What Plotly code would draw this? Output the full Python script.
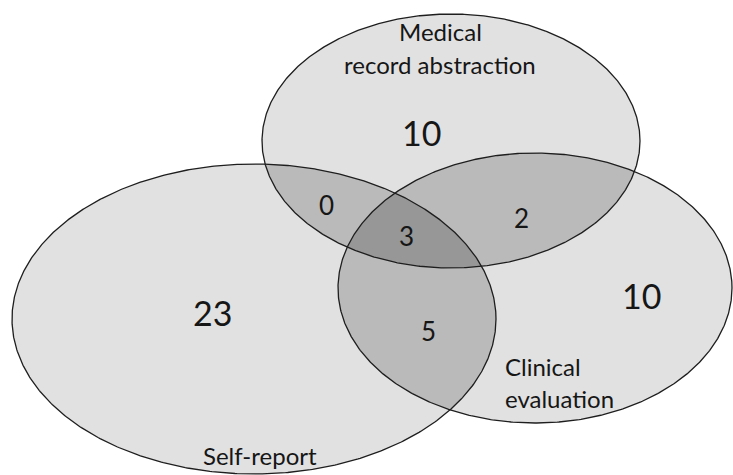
import numpy as np
import plotly.graph_objects as go

# ---- data ----
set_names = ["Self-report", "Medical record abstraction", "Clinical evaluation"]
region_names = ["Self-report only", "Medical only", "Clinical only",
                "Self-report & Medical", "Self-report & Clinical",
                "Medical & Clinical", "All three"]
region_counts = [23, 10, 10, 0, 5, 2, 3]

# ---- layout / geometry (pixel-like coordinates, y grows downward) ----
W, H = 733, 475
ell_cx = [254, 451, 535]
ell_cy = [319, 141, 288]
ell_rx = [242, 189, 197]
ell_ry = [155, 127, 135]

count_x = [212, 421, 641, 326, 428, 521, 406]
count_y = [312, 132, 295, 205, 331, 218, 236]
count_size = [34, 34, 34, 26, 26, 26, 26]

set_label_lines = [["Self-report"], ["Medical", "record abstraction"], ["Clinical", "evaluation"]]
set_label_x = [260, 440, 503]
set_label_y = [[455], [31, 64], [366, 398]]
set_label_anchor = ["center", "center", "left"]

fill_single = "#e1e1e1"
fill_double = "#bababa"
fill_triple = "#979797"
edge_color = "#1e1e1e"
text_color = "#161616"
FONT = "Lato"


def ellipse(i, n=720):
    t = np.linspace(0, 2 * np.pi, n, endpoint=False)
    return list(zip(ell_cx[i] + ell_rx[i] * np.cos(t), ell_cy[i] + ell_ry[i] * np.sin(t)))


def clip(subject, clipper):
    # Sutherland-Hodgman, clipper convex
    def inside(p, a, b):
        return (b[0] - a[0]) * (p[1] - a[1]) - (b[1] - a[1]) * (p[0] - a[0]) >= 0

    def inter(p, q, a, b):
        x1, y1 = p; x2, y2 = q; x3, y3 = a; x4, y4 = b
        d = (x1 - x2) * (y3 - y4) - (y1 - y2) * (x3 - x4)
        if d == 0:
            return q
        tt = ((x1 - x3) * (y3 - y4) - (y1 - y3) * (x3 - x4)) / d
        return (x1 + tt * (x2 - x1), y1 + tt * (y2 - y1))

    out = subject
    m = len(clipper)
    for k in range(m):
        a, b = clipper[k], clipper[(k + 1) % m]
        inp = out
        out = []
        if not inp:
            break
        s = inp[-1]
        for e in inp:
            if inside(e, a, b):
                if not inside(s, a, b):
                    out.append(inter(s, e, a, b))
                out.append(e)
            elif inside(s, a, b):
                out.append(inter(s, e, a, b))
            s = e
    return out


E = [ellipse(i) for i in range(3)]

fig = go.Figure()


def add_poly(pts, color, name):
    xs = [p[0] for p in pts] + [pts[0][0]]
    ys = [p[1] for p in pts] + [pts[0][1]]
    fig.add_trace(go.Scatter(x=xs, y=ys, mode="lines", fill="toself",
                             fillcolor=color, line=dict(width=0, color=color),
                             hoverinfo="skip", name=name, showlegend=False))


for i in range(3):
    add_poly(E[i], fill_single, set_names[i])
pairs = [(0, 1), (0, 2), (1, 2)]
for a, b in pairs:
    add_poly(clip(E[a], E[b]), fill_double, f"{set_names[a]} & {set_names[b]}")
add_poly(clip(clip(E[0], E[1]), E[2]), fill_triple, "All three")

for i in range(3):
    pts = E[i] + [E[i][0]]
    fig.add_trace(go.Scatter(x=[p[0] for p in pts], y=[p[1] for p in pts], mode="lines",
                             line=dict(width=1.3, color=edge_color),
                             hoverinfo="skip", showlegend=False))

annotations = []
for k in range(len(region_counts)):
    annotations.append(dict(x=count_x[k], y=count_y[k], xref="x", yref="y",
                            text=str(region_counts[k]), showarrow=False,
                            font=dict(family=FONT, size=count_size[k], color=text_color),
                            xanchor="center", yanchor="middle"))
for i in range(3):
    for line, yy in zip(set_label_lines[i], set_label_y[i]):
        annotations.append(dict(x=set_label_x[i], y=yy, xref="x", yref="y",
                                text=line, showarrow=False,
                                font=dict(family=FONT, size=24, color=text_color),
                                xanchor=set_label_anchor[i], yanchor="middle"))

fig.update_layout(
    width=W, height=H,
    margin=dict(l=0, r=0, t=0, b=0),
    paper_bgcolor="white", plot_bgcolor="white",
    xaxis=dict(range=[0, W], visible=False, fixedrange=True),
    yaxis=dict(range=[H, 0], visible=False, fixedrange=True),
    annotations=annotations,
    showlegend=False,
)

fig.write_html("out.html", config={"displayModeBar": False},
               post_script="document.body.style.margin='0';document.body.style.overflow='hidden';")
